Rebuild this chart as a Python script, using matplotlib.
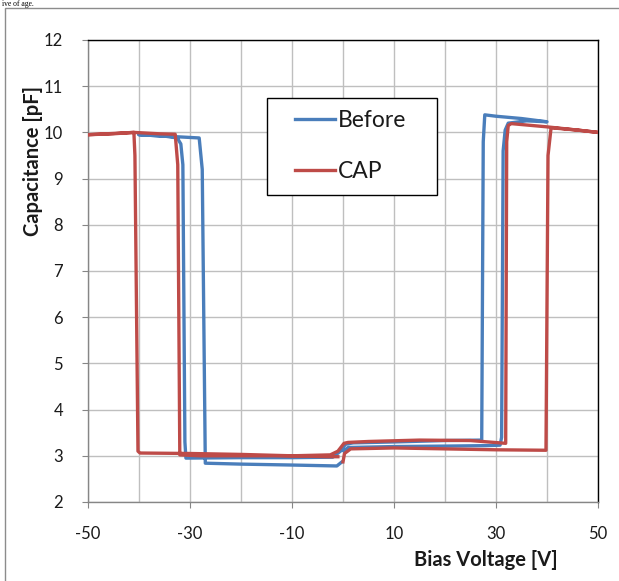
import matplotlib
matplotlib.use("Agg")
import matplotlib.pyplot as plt
from matplotlib.patches import Rectangle

plt.rcParams['font.family'] = ['Lato', 'DejaVu Sans']

# ---- data ----
before_v = [0.2, 1.0, 10, 20, 28, 30.8, 31.1, 31.4, 31.8, 32.4, 36, 40,
            35, 30, 27.8, 27.5, 27.2, 20, 10, 2, 0.5, -0.5, -2, -10, -20,
            -30.8, -31.0, -31.4, -31.8, -32.5, -35, -40,
            -35, -28.2, -27.6, -27.0, -20, -10, -1.2, -0.3]
before_c = [3.10, 3.18, 3.20, 3.21, 3.22, 3.23, 3.40, 9.60, 10.05, 10.20, 10.25, 10.23,
            10.30, 10.35, 10.38, 9.80, 3.34, 3.33, 3.30, 3.28, 3.25, 3.10, 2.97, 2.96, 2.96,
            2.95, 3.30, 9.30, 9.75, 9.88, 9.92, 9.95,
            9.92, 9.88, 9.20, 2.84, 2.82, 2.80, 2.78, 2.86]

cap_v = [0, 0.3, 1.5, 10, 20, 30, 39.8, 40.2, 40.8, 46, 50,
         46, 40, 36, 33.0, 32.4, 32.1, 31.9, 25, 15, 5, 1, 0.2, -1, -2.5, -10, -20, -28,
         -32.0, -32.4, -32.9, -36, -41, -50,
         -45, -41, -40.8, -40.2, -39.8, -30, -20, -10, -3, -1]
cap_c = [2.87, 3.05, 3.15, 3.17, 3.15, 3.13, 3.12, 9.50, 10.10, 10.05, 10.00,
         10.05, 10.12, 10.16, 10.19, 10.15, 9.80, 3.27, 3.33, 3.34, 3.31, 3.29, 3.27, 3.10, 3.02, 3.00, 3.00, 3.00,
         3.02, 9.30, 9.96, 9.97, 10.00, 9.95,
         9.97, 10.00, 9.50, 3.10, 3.06, 3.05, 3.03, 3.00, 2.98, 2.98]

series_names = ["Before", "CAP"]
series_colors = ["#4A7EBB", "#BE4B48"]

x_ticks = [-50, -30, -10, 10, 30, 50]
x_grid = list(range(-50, 51, 10))
y_ticks = list(range(2, 13))

W, H = 619, 581
fig = plt.figure(figsize=(W / 100, H / 100), dpi=100)
ax = fig.add_axes([88 / W, 1 - 502 / H, (598 - 88) / W, (502 - 40) / H])

ax.plot(before_v, before_c, color=series_colors[0], lw=2.4, label=series_names[0],
        solid_joinstyle='round', zorder=3)
ax.plot(cap_v, cap_c, color=series_colors[1], lw=2.4, label=series_names[1],
        solid_joinstyle='round', zorder=4)

ax.set_xlim(-50, 50)
ax.set_ylim(2, 12)
ax.set_xticks(x_ticks)
ax.set_xticks(x_grid, minor=True)
ax.set_yticks(y_ticks)
ax.grid(True, which='both', axis='x', color='#BFBFBF', lw=1.0)
ax.grid(True, which='major', axis='y', color='#BFBFBF', lw=1.0)
ax.set_axisbelow(True)
ax.tick_params(axis='x', which='minor', length=0)
ax.tick_params(axis='both', which='major', direction='out', length=4,
               color='#868686', labelsize=12, labelcolor='#1a1a1a')
ax.tick_params(axis='x', pad=13)
ax.tick_params(axis='y', pad=14)
ax.set_xticklabels([str(t) for t in x_ticks])
for s in ['left', 'bottom']:
    ax.spines[s].set_color('#868686')
    ax.spines[s].set_linewidth(1.0)
for s in ['top', 'right']:
    ax.spines[s].set_color('#000000')
    ax.spines[s].set_linewidth(1.0)

# legend frame (Excel-style box) and legend entries
ax.add_patch(Rectangle(((267 - 88) / 510, (502 - 195) / 462), 170 / 510, 97 / 462,
                       transform=ax.transAxes, facecolor='white', edgecolor='black',
                       lw=1.0, zorder=5))
leg = ax.legend(loc='center left', bbox_to_anchor=((295 - 88) / 510, (502 - 146) / 462),
                frameon=False, fontsize=16.5, handlelength=1.75, handletextpad=0.1,
                labelspacing=1.3, borderpad=0, borderaxespad=0)
leg.set_zorder(6)
for t in leg.get_texts():
    t.set_color('#1a1a1a')

fig.text(33 / W, 1 - 161 / H, "Capacitance [pF]", rotation=90, ha='center', va='center',
         fontsize=14.5, fontweight='bold', color='#1a1a1a')
fig.text(486 / W, 1 - 560 / H, "Bias Voltage [V]", ha='center', va='center',
         fontsize=14.5, fontweight='bold', color='#1a1a1a')

# outer chart border and document text above it
fig.patches.append(Rectangle((5 / W, -0.1), 1.2, 1 - 8 / H + 0.1, transform=fig.transFigure,
                             fill=False, edgecolor='#8c8c8c', lw=1.0))
fig.text(2 / W, 1 - 0.5 / H, "ive of age.", fontsize=5.5, family='Liberation Serif',
         va='top', ha='left', color='#000000')

fig.savefig("out.png", dpi=100)
